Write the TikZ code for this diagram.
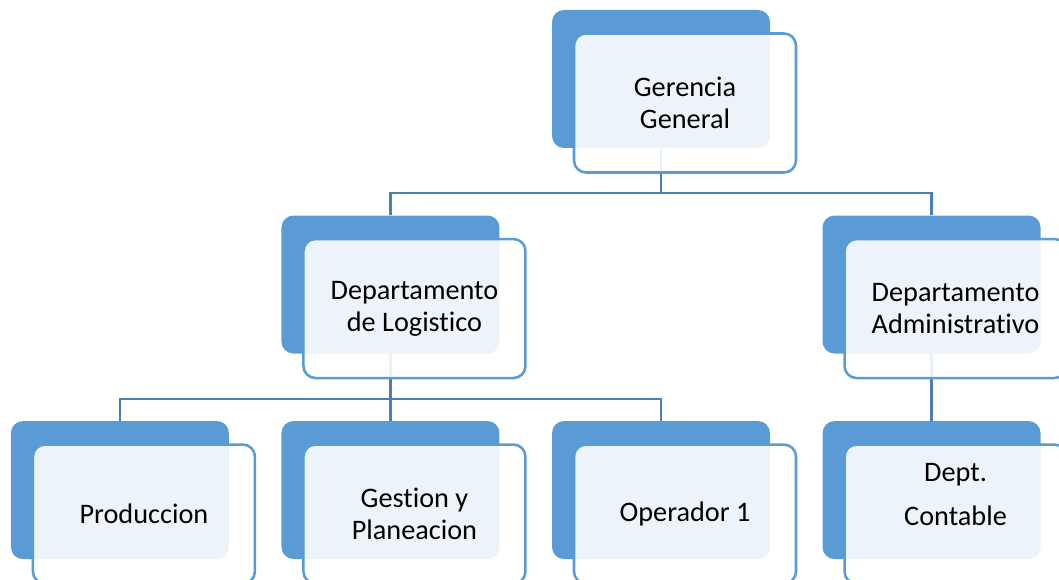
\documentclass[tikz,border=0pt]{standalone}
\usepackage{fontspec}
\setmainfont{Carlito}[Ligatures={NoCommon}]
\usepackage{tikz}
\usetikzlibrary{positioning}
\usetikzlibrary{calc}

\definecolor{boxblue}{RGB}{91,155,213}
\definecolor{lineblue}{RGB}{74,126,187}

\begin{document}
\begin{tikzpicture}[
  x=0.75pt, y=-0.75pt,
  node distance=50.25pt and 39pt,
  back/.style={fill=boxblue, rounded corners=9pt, minimum width=163.5pt, minimum height=103.5pt, inner sep=0pt},
  front/.style={draw=boxblue, line width=1.9pt, fill=white, fill opacity=0.89, text opacity=1, rounded corners=9pt,
    minimum width=166.5pt, minimum height=104.25pt, inner sep=0pt, align=center,
    font=\fontsize{21.2}{24}\selectfont},
  link/.style={draw=lineblue, line width=1.6pt}
]
\useasboundingbox (0,0) rectangle (1059,580);
\clip (0,0) rectangle (1059,580);

% Back boxes
\node[back] (gg) at (661,79) {};
\node[back, below left=of gg] (log) {};
\node[back, below right=of gg] (adm) {};
\node[back, below=of log] (ges) {};
\node[back, left=of ges] (pro) {};
\node[back, right=of ges] (ope) {};
\node[back, below=of adm] (con) {};

% Connectors
\draw[link] (gg.south) -- ++(0,45) -| (log.north);
\draw[link] (gg.south) -- ++(0,45) -| (adm.north);
\draw[link] (log.south) -- ++(0,45) -| (pro.north);
\draw[link] (log.south) -- (ges.north);
\draw[link] (log.south) -- ++(0,45) -| (ope.north);
\draw[link] (adm.south) -- (con.north);

% Front boxes
\node[front] (ggf) at ($(gg)+(24,24)$) {Gerencia\\General};
\node[front] (logf) at ($(log)+(24,24)$) {Departamento\\de Logistico};
\node[front] (admf) at ($(adm)+(24,24)$) {Departamento\\Administrativo};
\node[front] (prof) at ($(pro)+(24,24)$) {Produccion};
\node[front] (gesf) at ($(ges)+(24,24)$) {Gestion y\\Planeacion};
\node[front] (opef) at ($(ope)+(24,24)$) {Operador 1};
\node[front, text depth=29pt] (conf) at ($(con)+(24,24)$) {Dept.\\[9pt]Contable};

\end{tikzpicture}
\end{document}
